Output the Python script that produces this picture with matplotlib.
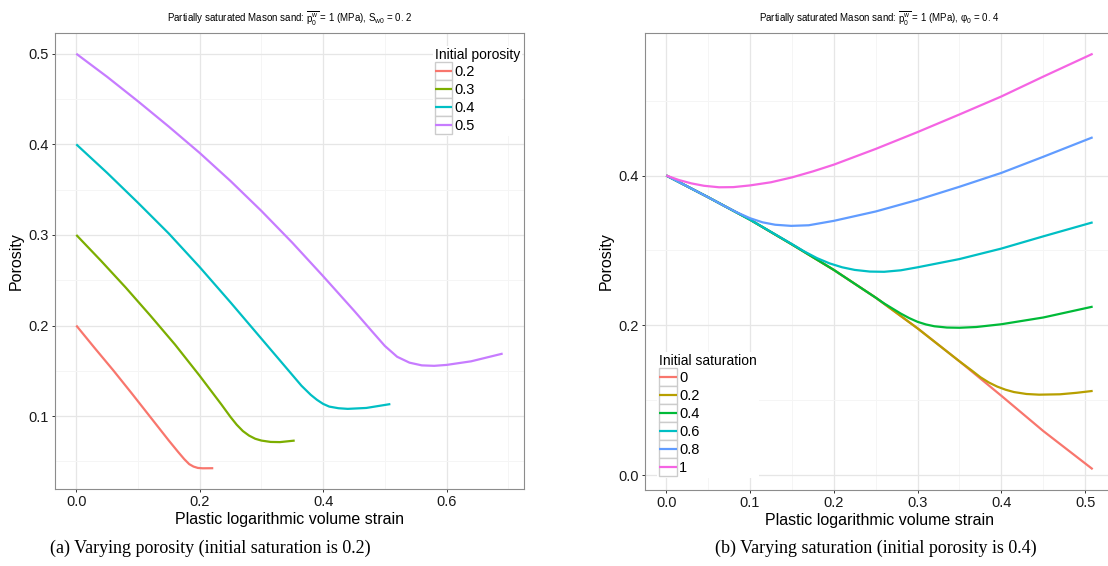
import numpy as np
import matplotlib
matplotlib.use('Agg')
import matplotlib.pyplot as plt
from matplotlib.legend_handler import HandlerLine2D
from matplotlib.patches import Rectangle
from matplotlib.ticker import MultipleLocator

plt.rcParams['font.family'] = ['Liberation Sans', 'DejaVu Sans']
plt.rcParams['mathtext.fontset'] = 'custom'
plt.rcParams['mathtext.rm'] = 'Liberation Sans'
plt.rcParams['mathtext.it'] = 'Liberation Sans:italic'

# (a) varying initial porosity, initial saturation 0.2
por_labels = ['0.2', '0.3', '0.4', '0.5']
por_colors = ['#F8766D', '#7CAE00', '#00BFC4', '#C77CFF']
por_x = [
    [0, 0.03, 0.06, 0.09, 0.12, 0.15, 0.165, 0.175, 0.183, 0.19, 0.197, 0.205, 0.222],
    [0, 0.04, 0.08, 0.12, 0.16, 0.20, 0.235, 0.25, 0.26, 0.27, 0.28, 0.29, 0.30, 0.315,
     0.33, 0.354],
    [0, 0.05, 0.10, 0.15, 0.20, 0.25, 0.30, 0.34, 0.365, 0.38, 0.39, 0.40, 0.41, 0.425,
     0.44, 0.47, 0.509],
    [0, 0.05, 0.10, 0.15, 0.20, 0.25, 0.30, 0.35, 0.40, 0.45, 0.48, 0.50, 0.52, 0.54,
     0.56, 0.58, 0.60, 0.64, 0.691],
]
por_y = [
    [0.2, 0.175, 0.1505, 0.125, 0.099, 0.073, 0.0605, 0.0525, 0.047, 0.0443, 0.0428,
     0.0424, 0.0425],
    [0.3, 0.2715, 0.242, 0.211, 0.179, 0.1445, 0.113, 0.099, 0.0905, 0.0835, 0.0785,
     0.075, 0.073, 0.0715, 0.0713, 0.073],
    [0.4, 0.3685, 0.3355, 0.3015, 0.2645, 0.2255, 0.1855, 0.1535, 0.1335, 0.1235, 0.118,
     0.1135, 0.1105, 0.1087, 0.108, 0.109, 0.1133],
    [0.5, 0.4745, 0.4475, 0.4195, 0.3905, 0.3595, 0.3265, 0.2915, 0.2545, 0.2165, 0.193,
     0.1775, 0.1655, 0.159, 0.156, 0.1555, 0.1565, 0.1605, 0.169],
]

# (b) varying initial saturation, initial porosity 0.4
sat_labels = ['0', '0.2', '0.4', '0.6', '0.8', '1']
sat_colors = ['#F8766D', '#B79F00', '#00BA38', '#00BFC4', '#619CFF', '#F564E3']
sat_x = [
    [0, 0.05, 0.10, 0.15, 0.20, 0.25, 0.30, 0.35, 0.40, 0.45, 0.509],
    [0, 0.05, 0.10, 0.15, 0.20, 0.25, 0.30, 0.35, 0.365, 0.375, 0.385, 0.395, 0.405,
     0.415, 0.43, 0.445, 0.47, 0.49, 0.509],
    [0, 0.05, 0.10, 0.15, 0.20, 0.25, 0.26, 0.27, 0.28, 0.29, 0.30, 0.31, 0.32, 0.335,
     0.35, 0.37, 0.40, 0.45, 0.509],
    [0, 0.05, 0.10, 0.15, 0.165, 0.18, 0.195, 0.21, 0.225, 0.243, 0.26, 0.28, 0.30, 0.35,
     0.40, 0.45, 0.509],
    [0, 0.05, 0.07, 0.085, 0.10, 0.115, 0.13, 0.149, 0.17, 0.20, 0.25, 0.30, 0.35, 0.40,
     0.45, 0.509],
    [0, 0.015, 0.03, 0.045, 0.063, 0.08, 0.10, 0.125, 0.15, 0.175, 0.20, 0.25, 0.30, 0.35,
     0.40, 0.45, 0.509],
]
sat_y = [
    [0.4, 0.371, 0.341, 0.308, 0.274, 0.237, 0.196, 0.152, 0.106, 0.059, 0.008],
    [0.4, 0.371, 0.341, 0.308, 0.274, 0.237, 0.196, 0.152, 0.1395, 0.1308, 0.1238, 0.1183,
     0.1141, 0.111, 0.1084, 0.1075, 0.108, 0.110, 0.1125],
    [0.4, 0.371, 0.341, 0.308, 0.274, 0.237, 0.2293, 0.2225, 0.2157, 0.2097, 0.2047,
     0.2012, 0.1988, 0.1971, 0.1968, 0.1978, 0.2015, 0.2105, 0.225],
    [0.4, 0.371, 0.341, 0.3085, 0.2985, 0.2897, 0.2827, 0.2775, 0.274, 0.2718, 0.2715,
     0.2735, 0.2775, 0.2885, 0.3025, 0.3188, 0.3375],
    [0.4, 0.371, 0.359, 0.3505, 0.343, 0.3375, 0.3343, 0.3328, 0.3336, 0.3395, 0.352,
     0.3675, 0.385, 0.4035, 0.425, 0.451],
    [0.4, 0.394, 0.3895, 0.3863, 0.3843, 0.3845, 0.3868, 0.391, 0.3975, 0.4055, 0.4145,
     0.4355, 0.458, 0.4815, 0.5055, 0.532, 0.5625],
]


class KeyHandler(HandlerLine2D):
    # ggplot-like legend key: grey bordered box, line through its middle
    def create_artists(self, legend, orig_handle, xdescent, ydescent,
                       width, height, fontsize, trans):
        arts = super().create_artists(legend, orig_handle, xdescent, ydescent,
                                      width, height, fontsize, trans)
        mid = height / 2 - ydescent
        for a in arts:
            a.set_ydata([mid] * len(a.get_xdata()))
        box = Rectangle((-xdescent, -ydescent), width, height, facecolor='white',
                        edgecolor='#CCCCCC', lw=1.0, transform=trans)
        return [box] + list(arts)


def style_axes(ax, xmaj, xmin, ymaj, ymin):
    ax.set_facecolor('white')
    for s in ax.spines.values():
        s.set_color('#8C8C8C')
        s.set_linewidth(0.8)
    ax.xaxis.set_major_locator(MultipleLocator(xmaj))
    ax.xaxis.set_minor_locator(MultipleLocator(xmin))
    ax.yaxis.set_major_locator(MultipleLocator(ymaj))
    ax.yaxis.set_minor_locator(MultipleLocator(ymin))
    ax.grid(True, which='major', color='#E6E6E6', lw=0.9)
    ax.grid(True, which='minor', color='#F5F5F5', lw=0.7)
    ax.set_axisbelow(True)
    ax.tick_params(which='major', length=2.5, width=0.7, color='#333333',
                   labelsize=10.5, labelcolor='#1a1a1a', pad=2)
    ax.tick_params(which='minor', length=0)
    ax.set_xlabel('Plastic logarithmic volume strain', fontsize=11.5, labelpad=2)
    ax.set_ylabel('Porosity', fontsize=11.5, labelpad=3)


def make_legend(ax, title, **kw):
    leg = ax.legend(title=title, fontsize=10.5, title_fontsize=10,
                    handlelength=1.2, handleheight=1.52, labelspacing=0,
                    handletextpad=0.15, borderpad=0.15, borderaxespad=0,
                    frameon=True, fancybox=False, edgecolor='none',
                    facecolor='white', framealpha=1, alignment='left',
                    handler_map={matplotlib.lines.Line2D: KeyHandler()}, **kw)
    return leg


fig = plt.figure(figsize=(11.08, 5.66), dpi=100)
ax1 = fig.add_axes([0.0496, 0.136, 0.4233, 0.8057])
ax2 = fig.add_axes([0.5821, 0.1343, 0.4233, 0.8074])

for xs, ys, lab, c in zip(por_x, por_y, por_labels, por_colors):
    ax1.plot(xs, ys, color=c, lw=1.6, label=lab, solid_capstyle='butt')
style_axes(ax1, 0.2, 0.1, 0.1, 0.05)
ax1.margins(0.05)
ax1.set_title(r'Partially saturated Mason sand: $\overline{\mathrm{p_0^w}}$ = 1 (MPa), '
              r'S$_\mathrm{w0}$ = 0. 2', fontsize=7, pad=7)
make_legend(ax1, 'Initial porosity', loc='upper left', bbox_to_anchor=(0.805, 0.972))

for xs, ys, lab, c in zip(sat_x, sat_y, sat_labels, sat_colors):
    ax2.plot(xs, ys, color=c, lw=1.6, label=lab, solid_capstyle='butt')
style_axes(ax2, 0.1, 0.05, 0.2, 0.1)
ax2.margins(0.05)
ax2.set_title(r'Partially saturated Mason sand: $\overline{\mathrm{p_0^w}}$ = 1 (MPa), '
              r'φ$_\mathrm{0}$ = 0. 4', fontsize=7, pad=7)
make_legend(ax2, 'Initial saturation', loc='lower left', bbox_to_anchor=(0.026, 0.026))

fig.text(0.19, 0.032, '(a) Varying porosity (initial saturation is 0.2)',
         family=['Liberation Serif'], fontsize=13, ha='center', va='center')
fig.text(0.79, 0.032, '(b) Varying saturation (initial porosity is 0.4)',
         family=['Liberation Serif'], fontsize=13, ha='center', va='center')

fig.savefig('out.png', dpi=100)
